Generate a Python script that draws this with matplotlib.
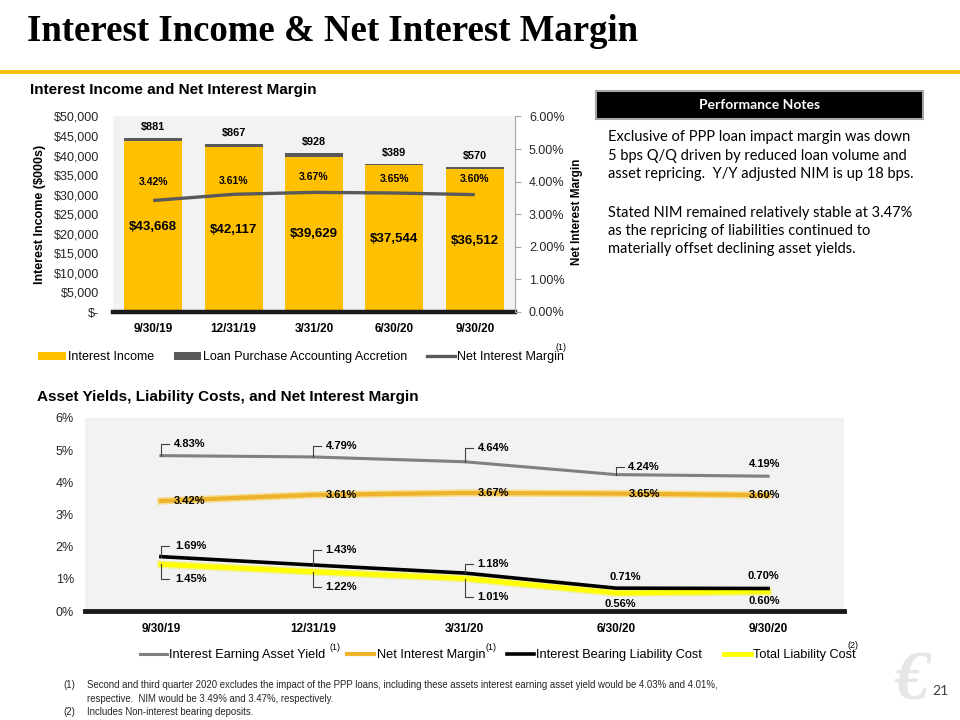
import matplotlib
matplotlib.use('Agg')
import matplotlib.pyplot as plt
from matplotlib.lines import Line2D
from matplotlib.patches import Patch, Rectangle
from matplotlib.transforms import IdentityTransform
from matplotlib import font_manager as fm
import matplotlib.patheffects as pe
from matplotlib.ticker import FuncFormatter
import numpy as np

# ---------------- data ----------------
quarters = ['9/30/19', '12/31/19', '3/31/20', '6/30/20', '9/30/20']
interest_income = [43668, 42117, 39629, 37544, 36512]
accretion = [881, 867, 928, 389, 570]
net_interest_margin = [3.42, 3.61, 3.67, 3.65, 3.60]
earning_asset_yield = [4.83, 4.79, 4.64, 4.24, 4.19]
bearing_liability_cost = [1.69, 1.43, 1.18, 0.71, 0.70]
total_liability_cost = [1.45, 1.22, 1.01, 0.56, 0.60]

income_ticks = list(range(0, 50001, 5000))
nim_ticks = [0, 1, 2, 3, 4, 5, 6]
rate_ticks = [0, 1, 2, 3, 4, 5, 6]

legend_top = ['Interest Income', 'Loan Purchase Accounting Accretion', 'Net Interest Margin']
legend_bottom = ['Interest Earning Asset Yield', 'Net Interest Margin',
                 'Interest Bearing Liability Cost', 'Total Liability Cost']

notes = ['Exclusive of PPP loan impact margin was down',
         '5 bps Q/Q driven by reduced loan volume and',
         'asset repricing.  Y/Y adjusted NIM is up 18 bps.',
         '',
         'Stated NIM remained relatively stable at 3.47%',
         'as the repricing of liabilities continued to',
         'materially offset declining asset yields.']

footnote1a = ('Second and third quarter 2020 excludes the impact of the PPP loans, including these assets '
              'interest earning asset yield would be 4.03% and 4.01%,')
footnote1b = 'respective.  NIM would be 3.49% and 3.47%, respectively.'
footnote2 = 'Includes Non-interest bearing deposits.'

# ---------------- styling ----------------
W, H = 960, 720
GOLD = '#FFC000'
DARK = '#595959'
BG = '#F2F2F2'


def has_font(name):
    try:
        fm.findfont(fm.FontProperties(family=name), fallback_to_default=False)
        return True
    except Exception:
        return False


HAS_NARROW = has_font('Liberation Sans Narrow')
SANS = ['Liberation Sans', 'DejaVu Sans']
NARROW = ['Liberation Sans Narrow', 'Liberation Sans', 'DejaVu Sans']
HUMAN = ['Lato', 'Open Sans', 'DejaVu Sans']
SERIF = ['Liberation Serif', 'DejaVu Serif']

plt.rcParams['font.family'] = SANS

fig = plt.figure(figsize=(W / 100, H / 100), dpi=100)
fig.patch.set_facecolor('white')


def fx(x):
    return x / W


def fy(y):
    return 1 - y / H


def rect(l, t, r, b):
    return [l / W, 1 - b / H, (r - l) / W, (b - t) / H]


# ---------------- header ----------------
fig.text(fx(27), fy(41), 'Interest Income & Net Interest Margin', family=SERIF,
         weight='bold', size=26.5, va='baseline', ha='left', color='black')
fig.add_artist(Rectangle((0, fy(74)), 1, 4 / H, transform=fig.transFigure,
                         facecolor='#F2C514', edgecolor='none'))

# ---------------- top chart ----------------
fig.text(fx(30), fy(90), 'Interest Income and Net Interest Margin', weight='bold',
         size=11, va='center', ha='left')

x = np.arange(len(quarters))
ax1 = fig.add_axes(rect(113, 116.4, 515, 312))
ax1.set_facecolor(BG)
ax1.bar(x, interest_income, 0.72, color=GOLD, zorder=2)
ax1.bar(x, accretion, 0.72, bottom=interest_income, color=DARK, zorder=2)
ax1.set_xlim(-0.5, len(quarters) - 0.5)
ax1.set_ylim(0, 50000)
ax1.set_yticks(income_ticks)
ax1.yaxis.set_major_formatter(FuncFormatter(lambda v, p: '$-' if v == 0 else f'${v:,.0f}'))
ax1.tick_params(axis='y', length=0, pad=10, labelsize=9, labelcolor='#262626')
ax1.set_xticks(x, quarters)
ax1.tick_params(axis='x', length=0, pad=8, labelsize=8.5)
for t in ax1.get_xticklabels():
    t.set_fontweight('bold')
for s in ['left', 'top', 'right']:
    ax1.spines[s].set_visible(False)
ax1.spines['bottom'].set_color('#1a1a1a')
ax1.spines['bottom'].set_linewidth(3.2)
ax1.spines['bottom'].set_zorder(4)

for i, (v, a) in enumerate(zip(interest_income, accretion)):
    ax1.text(i, v / 2, f'${v:,}', ha='center', va='center', weight='bold', size=9.5, zorder=5)
    ax1.annotate(f'${a:,}', (i, v + a), xytext=(0, 11), textcoords='offset pixels',
                 ha='center', va='center', weight='bold', size=7.8)

ax2 = ax1.twinx()
ax2.set_ylim(0, 6)
ax2.plot(x, net_interest_margin, color=DARK, lw=2.4, zorder=3, solid_capstyle='butt')
ax2.set_yticks(nim_ticks)
ax2.yaxis.set_major_formatter(FuncFormatter(lambda v, p: f'{v:.2f}%'))
ax2.tick_params(axis='y', length=4, width=0.8, color='#A6A6A6', pad=6, labelsize=9,
                labelcolor='#262626')
for s in ['left', 'top', 'bottom']:
    ax2.spines[s].set_visible(False)
ax2.spines['right'].set_color('#A6A6A6')
ax2.spines['right'].set_linewidth(0.8)

nim_label_offsets = [19, 13, 15, 14, 16]
for i, (n, off) in enumerate(zip(net_interest_margin, nim_label_offsets)):
    ax2.annotate(f'{n:.2f}%', (i, n), xytext=(0, off), textcoords='offset pixels',
                 ha='center', va='center', weight='bold', size=7.5)

fig.text(fx(40), fy(214), 'Interest Income ($000s)', rotation=90, weight='bold', size=9,
         ha='center', va='center')
fig.text(fx(577), fy(212), 'Net Interest Margin', rotation=90, weight='bold', size=8.5,
         ha='center', va='center')

h_top = [Patch(facecolor=GOLD, edgecolor='none'), Patch(facecolor=DARK, edgecolor='none'),
         Line2D([], [], color=DARK, lw=2.4)]
leg1 = fig.legend(h_top, legend_top, loc='center', bbox_to_anchor=(fx(301), fy(357)), ncol=3,
                  frameon=False, fontsize=9, handlelength=2.2, handleheight=0.6,
                  handletextpad=0.15, columnspacing=1.6, borderpad=0, borderaxespad=0)

# ---------------- performance notes ----------------
fig.add_artist(Rectangle((fx(596), fy(119)), (923 - 596) / W, 28 / H, transform=fig.transFigure,
                         facecolor='black', edgecolor='#A6A6A6', linewidth=1.5))
fig.text(fx(760), fy(105), 'Performance Notes', color='white', weight='bold', size=10,
         family=HUMAN, ha='center', va='center')
note_y = [137, 156, 174, 193, 213, 231, 249]
for line, yy in zip(notes, note_y):
    if line:
        fig.text(fx(608), fy(yy), line, family=HUMAN, size=10.5, ha='left', va='center',
                 color='black')

# ---------------- bottom chart ----------------
fig.text(fx(37), fy(397), 'Asset Yields, Liability Costs, and Net Interest Margin',
         weight='bold', size=11, va='center', ha='left')

ax3 = fig.add_axes(rect(85, 418, 844, 611))
ax3.set_facecolor(BG)
ax3.set_xlim(-0.5, len(quarters) - 0.5)
ax3.set_ylim(0, 6)
ax3.set_yticks(rate_ticks)
ax3.yaxis.set_major_formatter(FuncFormatter(lambda v, p: f'{v:.0f}%'))
ax3.tick_params(axis='y', length=0, pad=8, labelsize=9, labelcolor='#262626')
ax3.set_xticks(x, quarters)
ax3.tick_params(axis='x', length=0, pad=9, labelsize=8.5)
for t in ax3.get_xticklabels():
    t.set_fontweight('bold')
for s in ['left', 'top', 'right']:
    ax3.spines[s].set_visible(False)
ax3.spines['bottom'].set_color('#1a1a1a')
ax3.spines['bottom'].set_linewidth(3.5)
ax3.spines['bottom'].set_zorder(4)

ax3.plot(x, earning_asset_yield, color='#808080', lw=2.2, zorder=3)
ax3.plot(x, net_interest_margin, color='#EDB32C', lw=3.0, zorder=3,
         path_effects=[pe.Stroke(linewidth=5.2, foreground='#F7DC8C'), pe.Normal()])
ax3.plot(x, total_liability_cost, color='#FFFF00', lw=3.4, zorder=3,
         path_effects=[pe.Stroke(linewidth=5.4, foreground='#F3F08F'), pe.Normal()])
ax3.plot(x, bearing_liability_cost, color='black', lw=2.6, zorder=3)

# label placement: (dx px, dy px up, ha, leader)
lab_eay = [(13, 12, 'left', True), (13, 11, 'left', True), (13, 14, 'left', True),
           (12, 8, 'left', True), (-4, 12, 'center', False)]
lab_nim = [(13, 0, 'left', False), (13, 0, 'left', False), (13, 0, 'left', False),
           (12, 0, 'left', False), (-4, 0, 'center', False)]
lab_iblc = [(14, 11, 'left', True), (13, 15, 'left', True), (13, 9, 'left', True),
            (9, 11, 'center', False), (-5, 12, 'center', False)]
lab_tlc = [(14, -15, 'left', True), (13, -15, 'left', True), (13, -18, 'left', True),
           (4, -11, 'center', False), (-4, -9, 'center', False)]

fig.canvas.draw()


def label_series(vals, specs):
    for i, (v, (dx, dy, ha, leader)) in enumerate(zip(vals, specs)):
        ax3.annotate(f'{v:.2f}%', (i, v), xytext=(dx, dy), textcoords='offset pixels',
                     ha=ha, va='center', weight='bold', size=8, zorder=6)
        if leader:
            px, py = ax3.transData.transform((i, v))
            fig.add_artist(Line2D([px, px, px + 8], [py, py + dy, py + dy],
                                  transform=IdentityTransform(), color='#404040', lw=0.8,
                                  zorder=6))


label_series(earning_asset_yield, lab_eay)
label_series(net_interest_margin, lab_nim)
label_series(bearing_liability_cost, lab_iblc)
label_series(total_liability_cost, lab_tlc)

h_bot = [Line2D([], [], color='#808080', lw=2.2),
         Line2D([], [], color='#EDB32C', lw=3.0),
         Line2D([], [], color='black', lw=2.6),
         Line2D([], [], color='#FFFF00', lw=3.4)]
leg2 = fig.legend(h_bot, legend_bottom, loc='center', bbox_to_anchor=(fx(498), fy(655)), ncol=4,
                  frameon=False, fontsize=9.2, handlelength=2.1, handletextpad=0.2,
                  columnspacing=1.7, borderpad=0, borderaxespad=0)

# ---------------- superscripts on legends ----------------
fig.canvas.draw()
rend = fig.canvas.get_renderer()


def sup(text_artist, label, dx, dy):
    bb = text_artist.get_window_extent(rend)
    fig.text((bb.x1 + dx) / W, (bb.y1 + dy) / H, label, size=6.5, ha='center', va='center')


t1 = leg1.get_texts()
sup(t1[2], '(1)', -3, 3)
t2 = leg2.get_texts()
sup(t2[0], '(1)', 9, 1)
sup(t2[1], '(1)', 6, 1)
sup(t2[3], '(2)', -3, 4)

# ---------------- footnotes ----------------
fn_family = NARROW if HAS_NARROW else SANS
fn_size = 8.2 if HAS_NARROW else 6.9
fig.text(fx(63), fy(685), '(1)', family=fn_family, size=fn_size, va='center', color='#262626')
fig.text(fx(87), fy(685), footnote1a, family=fn_family, size=fn_size, va='center', color='#262626')
fig.text(fx(87), fy(699), footnote1b, family=fn_family, size=fn_size, va='center', color='#262626')
fig.text(fx(63), fy(712), '(2)', family=fn_family, size=fn_size, va='center', color='#262626')
fig.text(fx(87), fy(712), footnote2, family=fn_family, size=fn_size, va='center', color='#262626')

# logo watermark and page number
fig.text(fx(912), fy(682), '€', family=SERIF, size=50, style='italic', weight='bold',
         color='#E6E6E6', ha='center', va='center', zorder=0)
fig.text(fx(940), fy(691), '21', size=10, color='#404040', ha='center', va='center',
         family=HUMAN, zorder=2)

fig.savefig('out.png', dpi=100, facecolor='white')
